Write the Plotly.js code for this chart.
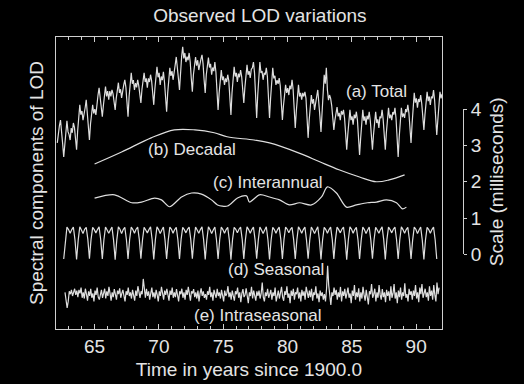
<!DOCTYPE html>
<html>
<head>
<meta charset="utf-8">
<script src="https://cdn.plot.ly/plotly-3.0.1.min.js"></script>
<style>
html,body{margin:0;padding:0;background:#000;}
#chart{width:524px;height:384px;}
</style>
</head>
<body>
<div id="chart"></div>
<script>
// ---------------- DATA (values in milliseconds) ----------------
// (a) Total LOD, sampled every 1/12 year from 62.1
const totalStart = 62.1;
const totalStep = 1/12;
const totalValues = [
  3.07,3.40,3.55,3.70,3.45,3.05,2.68,3.10,3.50,3.68,3.38,3.30,
  3.15,3.48,3.35,3.62,3.50,3.20,2.88,3.40,3.75,4.12,3.85,3.95,
  3.70,3.95,4.04,4.26,3.95,3.50,3.15,3.60,3.95,4.12,3.88,4.00,
  3.84,4.20,4.39,4.59,4.30,4.05,3.79,4.10,4.45,4.62,4.35,4.50,
  4.26,4.50,4.35,4.53,4.42,4.20,3.98,4.30,4.60,4.73,4.45,4.55,
  4.31,4.55,4.67,4.81,4.60,4.20,3.79,4.35,4.70,5.00,4.70,4.80,
  4.53,4.72,4.60,4.81,4.65,4.40,4.17,4.55,4.88,5.00,4.75,4.85,
  4.59,4.85,4.75,4.95,4.78,4.45,4.12,4.55,4.95,5.17,4.88,5.00,
  4.67,4.90,4.80,5.03,4.75,4.30,3.93,4.45,4.90,5.14,4.92,5.05,
  4.81,5.10,5.22,5.44,5.20,4.85,4.53,5.05,5.45,5.72,5.40,5.55,
  5.30,5.45,5.35,5.55,5.30,4.85,4.48,4.95,5.25,5.44,5.20,5.35,
  5.08,5.30,5.38,5.50,5.25,4.80,4.45,4.95,5.30,5.42,5.15,5.25,
  4.95,5.15,5.05,5.30,5.02,4.45,3.98,4.45,4.85,5.08,4.80,4.90,
  4.67,4.85,4.75,4.95,4.78,4.25,3.84,4.45,4.95,5.17,4.90,5.00,
  4.75,4.98,4.88,5.08,4.90,4.55,4.17,4.60,5.00,5.22,4.95,5.05,
  4.86,5.10,5.14,5.30,5.00,4.30,3.76,4.40,4.95,5.30,5.00,5.05,
  4.81,5.00,4.95,5.14,4.90,4.25,3.76,4.30,4.85,5.14,4.85,4.92,
  4.67,4.80,4.70,4.86,4.65,4.10,3.70,4.10,4.45,4.67,4.45,4.58,
  4.39,4.65,4.55,4.81,4.55,3.95,3.48,3.95,4.40,4.67,4.35,4.45,
  4.26,4.45,4.35,4.48,4.30,3.75,3.21,3.70,4.15,4.39,4.15,4.28,
  3.98,4.25,4.35,4.53,4.25,3.80,3.37,3.95,4.50,4.95,4.70,5.14,
  4.53,4.25,4.39,4.30,4.10,3.75,3.43,3.70,3.95,4.06,3.80,3.90,
  3.70,3.95,3.85,3.98,3.75,3.30,2.88,3.30,3.75,3.98,3.70,3.80,
  3.57,3.85,3.75,3.93,3.70,3.15,2.74,3.20,3.70,3.98,3.68,3.80,
  3.57,3.82,3.72,3.93,3.68,3.25,2.88,3.30,3.72,3.93,3.62,3.72,
  3.48,3.80,3.75,3.98,3.72,3.25,2.88,3.35,3.80,4.04,3.75,3.85,
  3.70,3.92,3.85,4.04,3.75,3.15,2.68,3.25,3.75,4.04,3.78,3.88,
  3.76,4.00,3.92,4.12,3.90,3.45,3.07,3.60,4.15,4.45,4.18,4.30,
  4.04,4.28,4.20,4.39,4.15,3.75,3.43,3.85,4.25,4.48,4.22,4.35,
  4.12,4.35,4.30,4.53,4.25,3.70,3.29,3.70,4.20,4.48,4.30,4.42
];

// (b) Decadal
const decadalYears  = [65.0, 67.1, 69.4, 71.2, 72.8, 74.3, 75.3, 77.4, 78.6, 80.9, 82.5, 84.0, 85.6, 86.9, 87.9, 89.1];
const decadalValues = [2.49, 2.82, 3.21, 3.43, 3.43, 3.35, 3.24, 3.15, 3.07, 2.79, 2.55, 2.33, 2.13, 2.00, 2.05, 2.19];

// (c) Interannual
const interannualYears  = [65.0, 66.55, 67.9, 68.65, 69.66, 70.2, 70.83, 71.76, 72.54, 73.31, 74.09, 74.56, 75.33, 76.11, 76.81, 77.04, 77.82, 78.6, 79.37, 80.15, 80.93, 81.86, 82.64, 83.1, 83.8, 84.58, 85.36, 86.21, 86.91, 87.69, 88.47, 88.93, 89.24];
const interannualValues = [1.55, 1.64, 1.42, 1.44, 1.55, 1.50, 1.31, 1.58, 1.69, 1.66, 1.50, 1.36, 1.33, 1.55, 1.61, 1.44, 1.64, 1.58, 1.50, 1.36, 1.42, 1.36, 1.58, 1.86, 1.69, 1.30, 1.36, 1.42, 1.44, 1.50, 1.42, 1.25, 1.30];

// (d) Seasonal, sampled every 1/8 year from 62.6
const seasonalStart = 62.6;
const seasonalStep = 0.125;
const seasonalValues = [
  -0.13,0.40,0.75,0.68,0.58,0.68,0.75,0.40,
  -0.14,0.39,0.76,0.67,0.57,0.69,0.74,0.41,
  -0.12,0.41,0.74,0.68,0.59,0.68,0.76,0.40,
  -0.13,0.40,0.75,0.67,0.58,0.67,0.75,0.39,
  -0.15,0.39,0.76,0.69,0.57,0.68,0.74,0.40,
  -0.13,0.41,0.75,0.68,0.58,0.69,0.75,0.41,
  -0.12,0.40,0.74,0.67,0.59,0.68,0.76,0.40,
  -0.14,0.40,0.76,0.68,0.57,0.67,0.75,0.39,
  -0.13,0.39,0.75,0.69,0.58,0.68,0.74,0.40,
  -0.13,0.41,0.74,0.68,0.59,0.69,0.75,0.41,
  -0.12,0.40,0.75,0.67,0.58,0.68,0.76,0.40,
  -0.14,0.39,0.76,0.68,0.57,0.67,0.75,0.40,
  -0.13,0.40,0.75,0.68,0.58,0.68,0.74,0.39,
  -0.15,0.41,0.74,0.69,0.59,0.69,0.75,0.41,
  -0.13,0.40,0.76,0.68,0.58,0.68,0.75,0.40,
  -0.12,0.39,0.75,0.67,0.57,0.67,0.76,0.40,
  -0.14,0.40,0.74,0.68,0.58,0.68,0.75,0.41,
  -0.13,0.41,0.75,0.69,0.59,0.69,0.74,0.40,
  -0.13,0.40,0.76,0.68,0.58,0.68,0.75,0.39,
  -0.12,0.39,0.75,0.67,0.57,0.67,0.76,0.40,
  -0.14,0.40,0.74,0.68,0.58,0.68,0.75,0.41,
  -0.13,0.41,0.75,0.68,0.59,0.69,0.75,0.40,
  -0.15,0.40,0.76,0.69,0.58,0.68,0.74,0.40,
  -0.13,0.39,0.75,0.68,0.57,0.67,0.75,0.39,
  -0.12,0.40,0.74,0.67,0.58,0.68,0.76,0.41,
  -0.14,0.41,0.75,0.68,0.59,0.69,0.75,0.40,
  -0.13,0.40,0.76,0.68,0.58,0.68,0.74,0.40,
  -0.13,0.39,0.75,0.69,0.57,0.67,0.75,0.39,
  -0.14,0.40,0.74,0.68,0.58,0.68,0.75,0.40,
  -0.13
];

// (e) Intraseasonal, sampled every 1/12 year from 62.7
const intraStart = 62.7;
const intraStep = 1/12;
const intraValues = [
  -1.05,-1.25,-1.48,-1.30,-1.02,-1.10,-0.98,-1.15,-1.05,-0.95,-1.12,-1.00,
  -1.18,-0.98,-1.08,-0.92,-1.20,-1.05,-1.22,-0.95,-1.10,-1.28,-1.02,-1.15,
  -0.95,-1.20,-1.08,-1.30,-1.00,-1.12,-0.92,-1.18,-1.25,-1.05,-0.98,-1.20,
  -1.10,-0.95,-1.22,-1.02,-1.15,-0.90,-1.08,-1.28,-1.05,-1.18,-0.96,-1.12,
  -1.25,-1.00,-1.10,-0.94,-1.20,-1.08,-0.98,-1.15,-1.30,-1.02,-1.12,-0.92,
  -1.15,-1.05,-1.22,-0.98,-1.10,-1.28,-1.00,-1.15,-0.88,-1.08,-1.20,-1.02,
  -1.10,-0.68,-1.05,-1.20,-0.95,-1.15,-1.02,-1.25,-1.08,-0.92,-1.18,-1.05,
  -1.22,-0.98,-1.12,-1.30,-1.02,-1.15,-0.90,-1.10,-1.25,-1.00,-1.12,-0.95,
  -1.15,-1.28,-1.00,-1.12,-0.92,-1.20,-1.05,-1.18,-0.96,-1.10,-1.30,-1.02,
  -1.10,-0.95,-1.20,-1.05,-1.25,-0.98,-1.12,-0.90,-1.15,-1.28,-1.02,-1.08,
  -0.96,-1.18,-1.05,-1.22,-1.00,-1.30,-1.08,-0.94,-1.15,-1.02,-1.20,-1.10,
  -1.25,-1.02,-1.12,-0.90,-1.18,-1.05,-1.28,-0.98,-1.10,-1.20,-0.95,-1.15,
  -1.05,-1.22,-0.98,-1.12,-1.30,-1.00,-1.15,-1.08,-0.88,-1.18,-1.05,-1.25,
  -1.00,-1.15,-1.28,-1.02,-1.10,-0.92,-1.20,-1.05,-1.32,-1.08,-0.96,-1.18,
  -1.12,-0.94,-1.20,-1.35,-1.05,-1.15,-0.90,-1.22,-1.00,-1.12,-1.28,-1.02,
  -1.15,-1.00,-1.22,-1.08,-0.78,-1.18,-1.30,-1.05,-1.15,-0.95,-1.20,-1.10,
  -0.98,-1.25,-1.05,-1.15,-0.92,-1.30,-1.10,-1.00,-1.22,-1.05,-0.90,-1.18,
  -1.28,-1.02,-1.12,-0.88,-1.20,-1.08,-1.35,-1.00,-1.15,-0.95,-1.25,-1.05,
  -1.10,-0.92,-1.22,-1.05,-1.30,-0.98,-1.15,-1.02,-1.25,-0.90,-1.12,-1.20,
  -1.00,-1.18,-0.95,-1.28,-1.05,-1.12,-0.88,-1.22,-1.08,-1.32,-1.00,-1.15,
  -1.05,-1.25,-1.10,-1.30,-0.95,-0.32,-0.85,-1.20,-1.40,-1.05,-1.15,-0.92,
  -1.12,-0.98,-1.25,-1.05,-1.18,-0.90,-1.30,-1.02,-1.15,-0.95,-1.22,-1.08,
  -0.92,-1.20,-1.08,-1.35,-1.00,-1.15,-0.85,-1.25,-1.05,-1.18,-0.94,-1.30,
  -1.05,-1.22,-0.90,-1.12,-1.28,-0.98,-1.15,-1.38,-1.02,-1.10,-0.82,-1.20,
  -1.10,-0.95,-1.30,-1.05,-1.20,-0.85,-1.12,-1.25,-0.96,-1.18,-1.05,-1.32,
  -0.98,-1.15,-1.02,-1.28,-0.88,-1.20,-1.08,-0.82,-1.22,-1.05,-1.35,-1.00,
  -1.18,-0.92,-1.25,-1.05,-1.15,-0.80,-1.20,-1.10,-1.30,-0.95,-1.12,-1.02,
  -1.25,-1.00,-1.15,-0.85,-1.22,-1.05,-1.32,-0.92,-1.10,-0.82,-1.20,-1.08,
  -0.95,-1.18,-1.05,-1.28,-0.88,-1.15,-1.00,-1.25,-0.85,-1.12,-1.30,-0.78,
  -1.10,-0.92
];

// Axis ticks and labels
const xTickYears = [65, 70, 75, 80, 85, 90];
const scaleTicks = [0, 1, 2, 3, 4];
const seriesLabels = ['(a) Total', '(b) Decadal', '(c) Interannual', '(d) Seasonal', '(e) Intraseasonal'];
const labelYears  = [86.9, 72.55, 78.5, 79.1, 77.7];
const labelValues = [4.49, 2.90, 1.97, -0.41, -1.69];

// ---------------- BUILD ----------------
function timeAxis(start, step, n) {
  const t = [];
  for (let i = 0; i < n; i++) t.push(start + i * step);
  return t;
}

const lineColor = '#dedede';
const textColor = '#e4e4e4';
const frameColor = '#cfcfcf';
const fontFamily = '"Liberation Sans", Arial, Helvetica, sans-serif';

const lineStyle = {color: lineColor, width: 1.2};

const traces = [
  {x: timeAxis(totalStart, totalStep, totalValues.length), y: totalValues, type: 'scatter', mode: 'lines', line: lineStyle, hoverinfo: 'skip'},
  {x: decadalYears, y: decadalValues, type: 'scatter', mode: 'lines', line: Object.assign({shape: 'spline', smoothing: 1}, lineStyle), hoverinfo: 'skip'},
  {x: interannualYears, y: interannualValues, type: 'scatter', mode: 'lines', line: Object.assign({shape: 'spline', smoothing: 0.8}, lineStyle), hoverinfo: 'skip'},
  {x: timeAxis(seasonalStart, seasonalStep, seasonalValues.length), y: seasonalValues, type: 'scatter', mode: 'lines', line: lineStyle, hoverinfo: 'skip'},
  {x: timeAxis(intraStart, intraStep, intraValues.length), y: intraValues, type: 'scatter', mode: 'lines', line: lineStyle, hoverinfo: 'skip'},
  // empty trace that only carries the millisecond scale bar axis
  {x: [], y: [], xaxis: 'x2', yaxis: 'y2', type: 'scatter', mode: 'lines', hoverinfo: 'skip', showlegend: false}
];

const annotations = seriesLabels.map((s, i) => ({
  text: s, x: labelYears[i], y: labelValues[i], xref: 'x', yref: 'y',
  showarrow: false, xanchor: 'center', yanchor: 'middle',
  font: {family: fontFamily, size: 17, color: textColor}
}));

const layout = {
  width: 524, height: 384,
  paper_bgcolor: '#000', plot_bgcolor: 'rgba(0,0,0,0)',
  showlegend: false,
  margin: {l: 56, r: 14, t: 37, b: 55},
  font: {family: fontFamily, size: 19, color: textColor},
  title: {text: 'Observed LOD variations', x: 0.496, xref: 'container', xanchor: 'center',
          y: 0.961, yref: 'container', yanchor: 'middle',
          font: {family: fontFamily, size: 19, color: textColor}},
  xaxis: {
    domain: [0, 0.850], range: [62, 92], showgrid: false, zeroline: false,
    showline: true, linecolor: frameColor, linewidth: 1, mirror: 'allticks',
    ticks: 'inside', ticklen: 5, tickcolor: frameColor, tickvals: xTickYears,
    minor: {dtick: 1, ticks: 'inside', ticklen: 3, tickcolor: frameColor, showgrid: false},
    tickfont: {family: fontFamily, size: 19, color: textColor},
    title: {text: 'Time in years since 1900.0', standoff: 6, font: {family: fontFamily, size: 19, color: textColor}}
  },
  yaxis: {
    range: [-2.06, 5.99], showgrid: false, zeroline: false, showticklabels: false, ticks: '',
    showline: true, linecolor: frameColor, linewidth: 1, mirror: true,
    title: {text: 'Spectral components of LOD', standoff: 6, font: {family: fontFamily, size: 19, color: textColor}}
  },
  xaxis2: {domain: [0, 0.850], range: [0, 1], anchor: 'y2', visible: false, showgrid: false, zeroline: false},
  yaxis2: {
    domain: [0.2558, 0.7524], range: [0, 4], anchor: 'free', position: 0.8965, side: 'right',
    showgrid: false, zeroline: false, showline: true, linecolor: frameColor, linewidth: 1,
    ticks: 'outside', ticklen: 3, tickcolor: frameColor, tickvals: scaleTicks,
    tickfont: {family: fontFamily, size: 19, color: textColor},
    title: {text: 'Scale (milliseconds)', standoff: 8, font: {family: fontFamily, size: 19, color: textColor}}
  },
  annotations: annotations
};

Plotly.newPlot('chart', traces, layout, {staticPlot: true, displayModeBar: false});
</script>
</body>
</html>
